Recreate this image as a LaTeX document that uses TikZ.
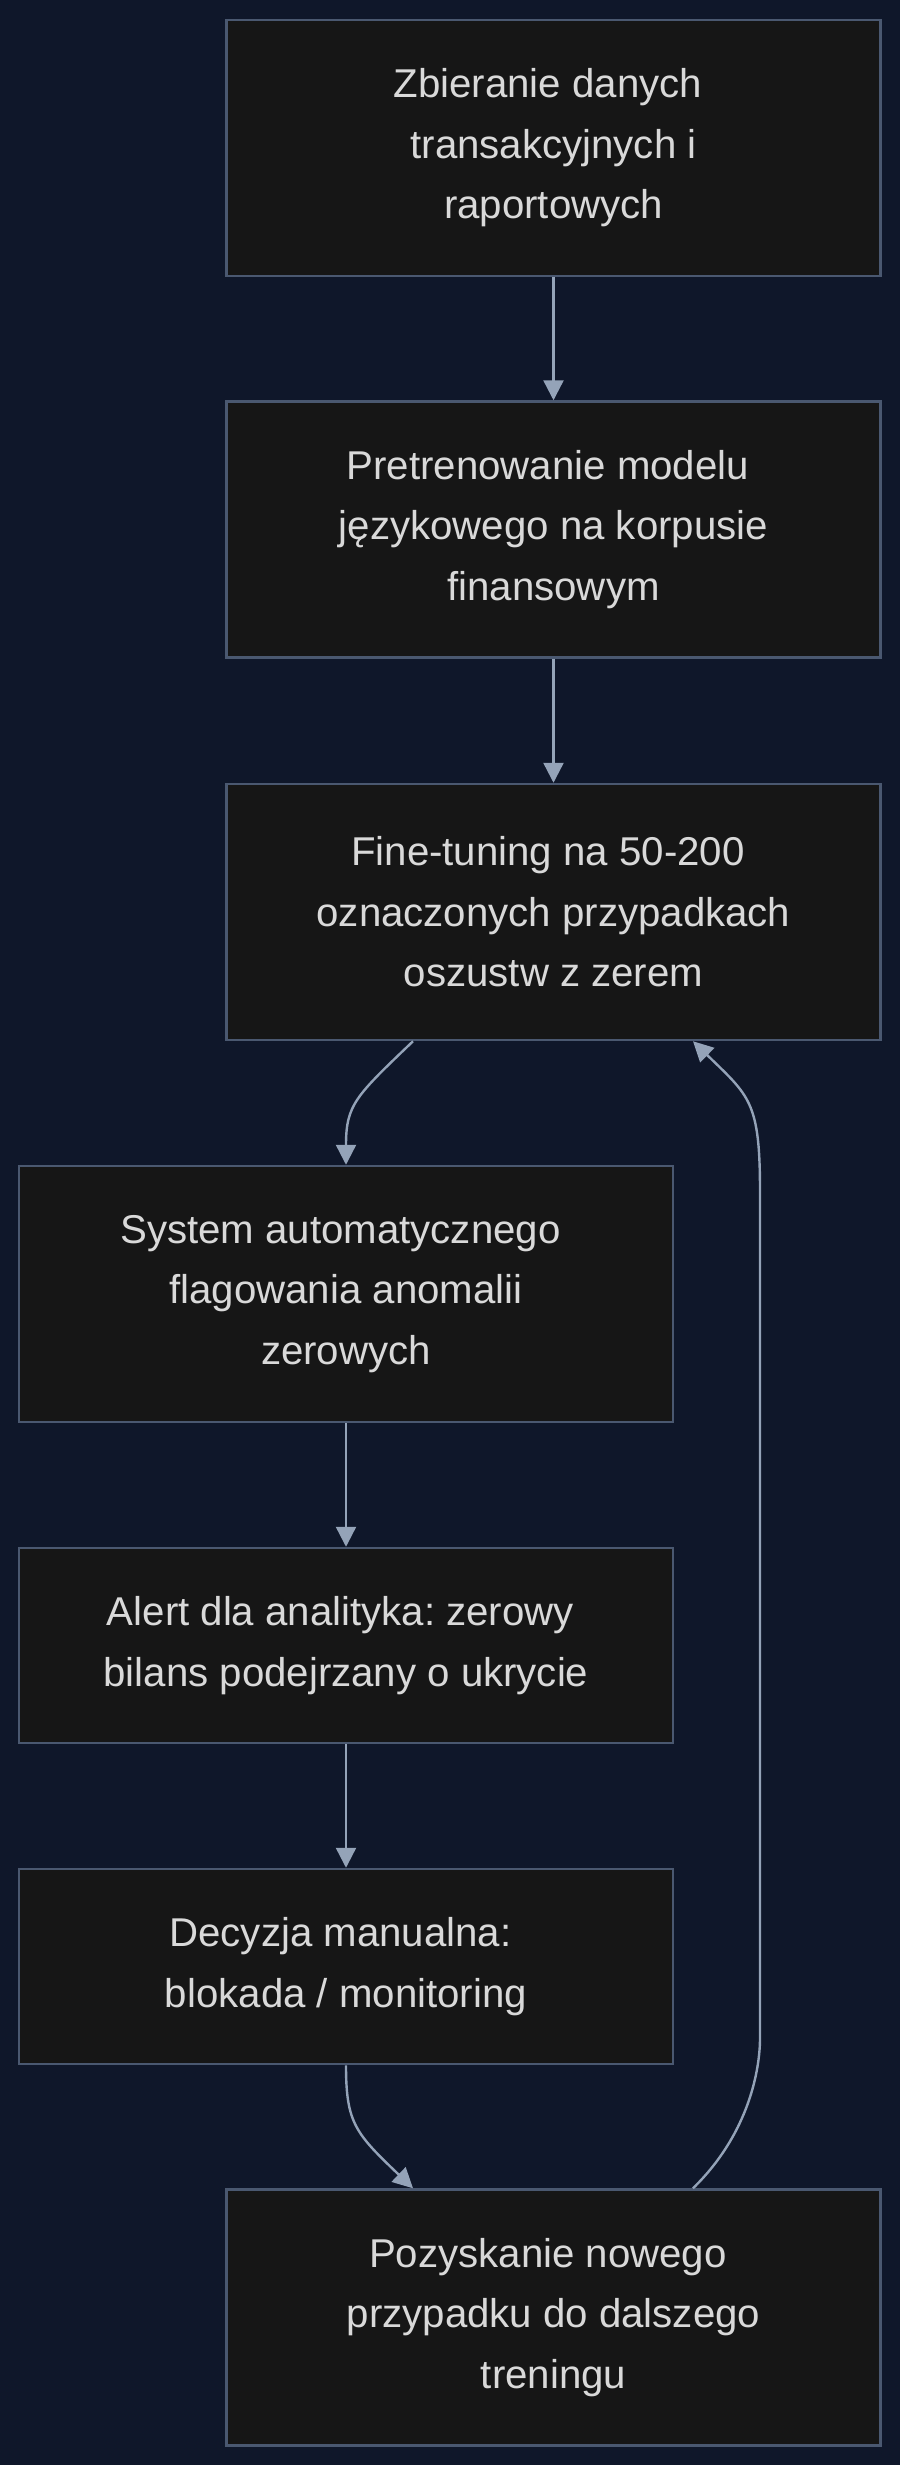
\documentclass[tikz,border=0pt]{standalone}
\usepackage{fontspec}
\setmainfont{Liberation Sans}
\usetikzlibrary{arrows.meta,calc}
\definecolor{bgc}{HTML}{0F172A}
\definecolor{boxfill}{HTML}{161616}
\definecolor{boxline}{HTML}{4A5870}
\definecolor{edgec}{HTML}{94A3B8}
\definecolor{txt}{HTML}{D9D9D9}
\newcommand\trailsp{\hspace*{.278em}}
\frenchspacing
\begin{document}
\begin{tikzpicture}[x=0.5pt,y=-0.5pt,
  box/.style={draw=boxline,fill=boxfill,line width=1.25pt,minimum width=327pt,inner sep=0pt,text=txt,align=center,font=\fontsize{20.1}{30.25}\selectfont},
  tall/.style={minimum height=128pt},
  short/.style={minimum height=97.5pt},
  edge/.style={draw=edgec,line width=1.2pt,-{Triangle[length=10pt,width=10pt]}}]
\fill[bgc] (0,0) rectangle (900,2465);
\useasboundingbox (0,0) rectangle (900,2465);

\node[box,tall] (b1) at (553.5,148) {Zbieranie danych\trailsp\\transakcyjnych i\trailsp\\raportowych};
\node[box,tall] (b2) at (553.5,529.5) {Pretrenowanie modelu\trailsp\\językowego na korpusie\trailsp\\finansowym};
\node[box,tall] (b3) at (553.5,912) {Fine-tuning na 50-200\trailsp\\oznaczonych przypadkach\trailsp\\oszustw z zerem};
\node[box,tall] (b4) at (346,1294) {System automatycznego\trailsp\\flagowania anomalii\trailsp\\zerowych};
\node[box,short] (b5) at (346,1645.5) {Alert dla analityka: zerowy\trailsp\\bilans podejrzany o ukrycie};
\node[box,short] (b6) at (346,1966.5) {Decyzja manualna:\trailsp\\blokada / monitoring};
\node[box,tall] (b7) at (553.5,2317.5) {Pozyskanie nowego\trailsp\\przypadku do dalszego\trailsp\\treningu};

\draw[edge] (b1.south) -- (b2.north);
\draw[edge] (b2.south) -- (b3.north);
\draw[edge] ($(b3.south)+(-140.5,0)$) .. controls ($(b3.south)+(-198,55)$) and ($(b4.north)+(0,-60)$) .. (b4.north);
\draw[edge] (b4.south) -- (b5.north);
\draw[edge] (b5.south) -- (b6.north);
\draw[edge] (b6.south) .. controls ($(b6.south)+(0,58)$) and ($(b7.north)+(-198,-55)$) .. ($(b7.north)+(-140.5,0)$);
\coordinate (lt) at ($(b3.south)+(206.5,150)$);
\coordinate (lb) at ($(b7.north)+(206.5,-150)$);
\draw[edge] ($(b7.north)+(139.5,0)$) .. controls ($(b7.north)+(196,-55)$) and ($(lb)+(0,30)$) .. (lb) -- (lt) .. controls ($(lt)+(0,-90)$) and ($(b3.south)+(196,55)$) .. ($(b3.south)+(139.5,0)$);
\end{tikzpicture}
\end{document}
